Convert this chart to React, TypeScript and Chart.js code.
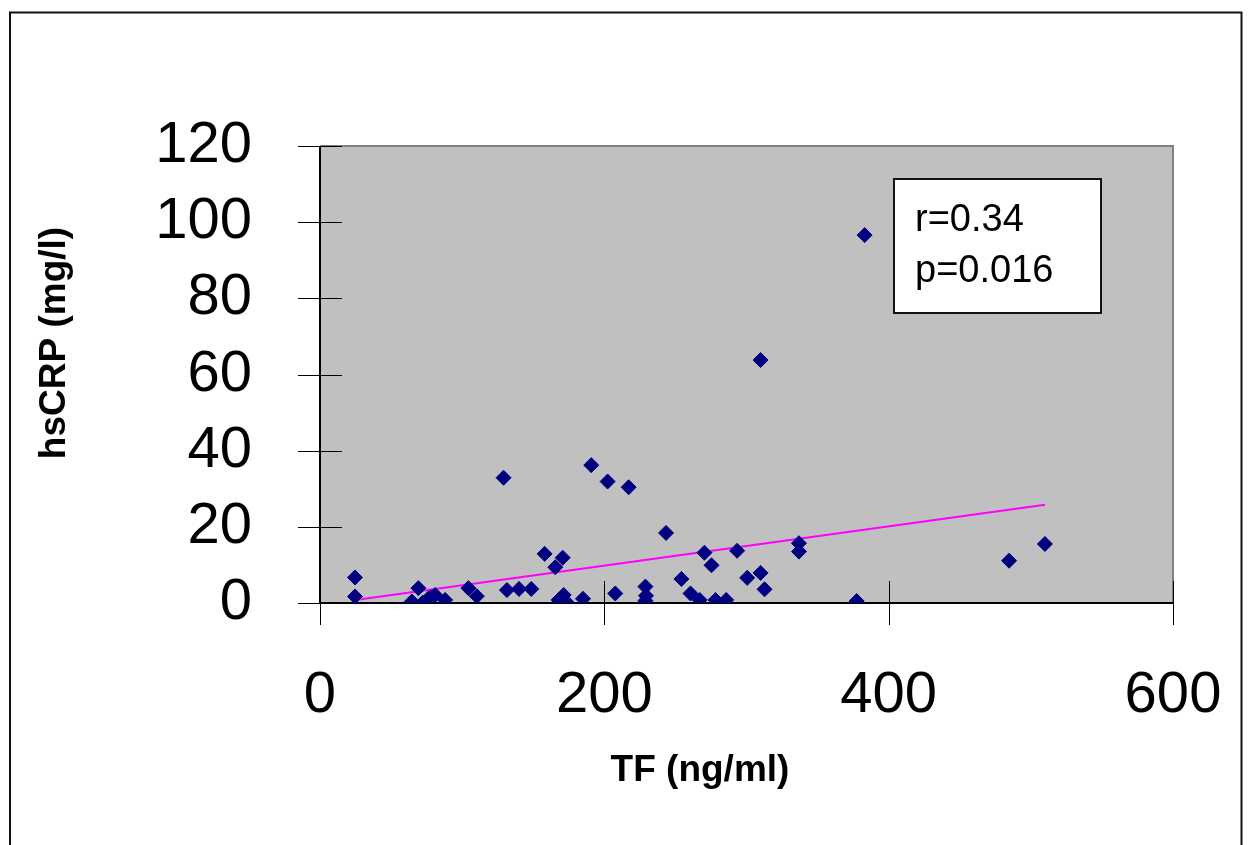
import React, { useEffect, useRef } from "react";
import { Chart, registerables } from "chart.js";

Chart.register(...registerables);

// TF (ng/ml) values
const tfValues = [
  24.6, 24.6, 69.2, 64.6, 72.3, 76.3, 81, 78, 88, 104.4, 110.3, 129.1, 131.5, 140,
  148.6, 158, 165.5, 170.7, 167.8, 171.4, 173.7, 185, 190.8, 202.3, 207.7, 217.1,
  243.4, 228.9, 229.3, 228.9, 254.2, 260.6, 267.1, 270.4, 275.4, 278.2, 285.7,
  293.4, 300.5, 309.9, 312.7, 336.9, 336.9, 377.5, 309.9, 383.1, 484.7, 509.9,
];
// hsCRP (mg/l) values
const crpValues = [
  6.7, 1.7, 3.9, 0.4, 0.1, 1.2, 2.1, 1.5, 0.8, 3.9, 1.8, 32.9, 3.4, 3.7,
  3.7, 12.9, 9.4, 11.9, 0.8, 2.1, 0.1, 1.1, 36.2, 31.9, 2.5, 30.4,
  18.4, 4.3, 1.9, 0.6, 6.3, 2.5, 0.8, 13.2, 9.9, 0.8, 0.8,
  13.7, 6.6, 7.9, 3.6, 15.7, 13.5, 0.5, 63.8, 96.6, 11.1, 15.5,
];
// regression line end points
const trendX = [25, 510];
const trendY = [0.8, 25.8];

const xTicks = [0, 200, 400, 600];
const yTicks = [0, 20, 40, 60, 80, 100, 120];
const xTitle = "TF (ng/ml)";
const yTitle = "hsCRP (mg/l)";
const statsLines = ["r=0.34", "p=0.016"];

const FONT = '"Liberation Sans", Arial, sans-serif';

const decorPlugin = {
  id: "decor",
  beforeDraw(chart: any) {
    const { ctx, chartArea: a } = chart;
    ctx.save();
    ctx.fillStyle = "#ffffff";
    ctx.fillRect(0, 0, chart.width, chart.height);
    // outer frame
    ctx.strokeStyle = "#111111";
    ctx.lineWidth = 2;
    ctx.strokeRect(10, 12.5, 1231.5, 900);
    // plot area
    ctx.fillStyle = "#c0c0c0";
    ctx.fillRect(a.left, a.top, a.right - a.left, a.bottom - a.top);
    ctx.strokeStyle = "#808080";
    ctx.lineWidth = 2;
    ctx.beginPath();
    ctx.moveTo(a.left, a.top);
    ctx.lineTo(a.right, a.top);
    ctx.lineTo(a.right, a.bottom);
    ctx.stroke();
    ctx.restore();
  },
  beforeDatasetsDraw(chart: any) {
    const { ctx, chartArea: a, scales } = chart;
    ctx.save();
    ctx.strokeStyle = "#000000";
    ctx.lineWidth = 1;
    const tl = 22;
    yTicks.forEach((v) => {
      const y = Math.round(scales.y.getPixelForValue(v)) + 0.5;
      ctx.beginPath();
      ctx.moveTo(a.left - tl, y);
      ctx.lineTo(a.left + tl, y);
      ctx.stroke();
    });
    xTicks.forEach((v) => {
      const x = Math.round(scales.x.getPixelForValue(v)) + 0.5;
      ctx.beginPath();
      ctx.moveTo(x, a.bottom - tl);
      ctx.lineTo(x, a.bottom + tl);
      ctx.stroke();
    });
    // axes
    ctx.lineWidth = 2;
    ctx.beginPath();
    ctx.moveTo(a.left, a.top);
    ctx.lineTo(a.left, a.bottom);
    ctx.lineTo(a.right, a.bottom);
    ctx.stroke();
    ctx.restore();
  },
  afterDraw(chart: any) {
    const { ctx } = chart;
    ctx.save();
    // axis titles
    ctx.fillStyle = "#000000";
    ctx.font = `bold 37px ${FONT}`;
    ctx.textAlign = "center";
    ctx.textBaseline = "middle";
    ctx.fillText(xTitle, 700, 771);
    ctx.translate(55, 343);
    ctx.rotate(-Math.PI / 2);
    ctx.fillText(yTitle, 0, 0);
    ctx.restore();

    // stats box
    ctx.save();
    ctx.fillStyle = "#ffffff";
    ctx.fillRect(894, 179, 207, 134);
    ctx.strokeStyle = "#111111";
    ctx.lineWidth = 2;
    ctx.strokeRect(894, 179, 207, 134);
    ctx.fillStyle = "#000000";
    ctx.font = `38px ${FONT}`;
    ctx.textAlign = "left";
    ctx.textBaseline = "alphabetic";
    ctx.fillText(statsLines[0], 915, 231);
    ctx.fillText(statsLines[1], 915, 282);
    ctx.restore();
  },
};

export default function App() {
  const ref = useRef<HTMLCanvasElement | null>(null);
  useEffect(() => {
    if (!ref.current) return;
    const points = tfValues.map((x, i) => ({ x, y: crpValues[i] }));
    const trend = trendX.map((x, i) => ({ x, y: trendY[i] }));
    const chart = new Chart(ref.current, {
      type: "scatter",
      data: {
        datasets: [
          {
            label: "hsCRP",
            data: points,
            pointStyle: "rectRot",
            pointRadius: 7.5,
            pointBackgroundColor: "#000080",
            pointBorderColor: "#000080",
            pointBorderWidth: 1,
          },
          {
            label: "trend",
            data: trend,
            showLine: true,
            borderColor: "#ff00ff",
            borderWidth: 2,
            pointRadius: 0,
            fill: false,
          },
        ],
      },
      options: {
        animation: false,
        responsive: false,
        layout: { padding: { top: 146, right: 75, left: 0, bottom: 0 } },
        plugins: {
          legend: { display: false },
          tooltip: { enabled: false },
        },
        scales: {
          x: {
            type: "linear",
            min: 0,
            max: 600,
            afterBuildTicks: (s: any) => {
              s.ticks = xTicks.map((v) => ({ value: v }));
            },
            afterFit: (s: any) => {
              s.height = 242;
              s.paddingLeft = 0;
              s.paddingRight = 0;
            },
            ticks: {
              color: "#000000",
              font: { family: FONT, size: 58 },
              padding: 50,
              maxRotation: 0,
            },
            grid: { display: false },
            border: { display: false },
          },
          y: {
            type: "linear",
            min: 0,
            max: 120,
            afterBuildTicks: (s: any) => {
              s.ticks = yTicks.map((v) => ({ value: v }));
            },
            afterFit: (s: any) => {
              s.width = 320;
              s.paddingTop = 0;
              s.paddingBottom = 0;
            },
            ticks: {
              color: "#000000",
              font: { family: FONT, size: 58 },
              padding: 60,
            },
            grid: { display: false },
            border: { display: false },
          },
        },
      },
      plugins: [decorPlugin],
    } as any);
    return () => chart.destroy();
  }, []);
  return (
    <div style={{ position: "fixed", left: 0, top: 0, width: 1248, height: 845 }}>
      <canvas ref={ref} width={1248} height={845} style={{ display: "block" }} />
    </div>
  );
}
